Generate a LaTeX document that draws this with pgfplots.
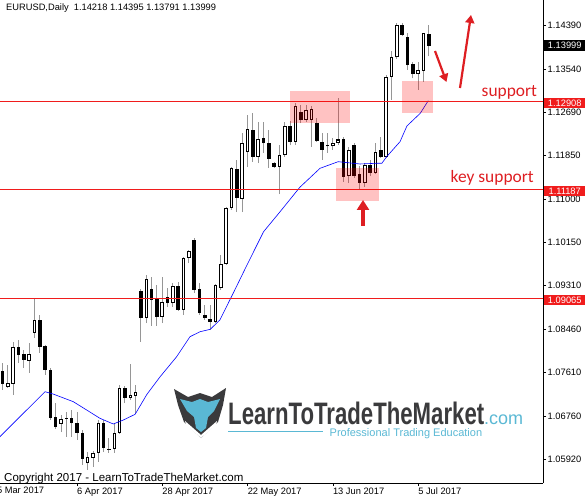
\documentclass[border=0pt]{standalone}
\usepackage{fontspec}
\setmainfont{Liberation Sans}
\newfontfamily\annofont{Carlito}
\usepackage{graphicx}
\usepackage{pgfplots}
\pgfplotsset{compat=1.18}
\usepackage{pgfplotstable}
\usetikzlibrary{arrows.meta}

\definecolor{lvl}{RGB}{240,28,28}
\definecolor{anno}{RGB}{222,30,34}
\definecolor{wick}{RGB}{150,150,150}
\definecolor{logoblue}{RGB}{90,184,212}
\definecolor{logogray}{RGB}{58,58,60}
\newcommand\tk{\fontsize{9.3}{10}\selectfont}

% daily candles, index 0 = 6 Apr 2017
\pgfplotstableread{
i   O       H       L       C
-14 1.07639 1.07795 1.07268 1.07385
-13 1.07326 1.07756 1.07307 1.07404
-12 1.07385 1.08206 1.07170 1.08108
-11 1.08108 1.08245 1.07795 1.07952
-10 1.07971 1.08050 1.07698 1.07854
-9  1.07834 1.08186 1.07600 1.07971
-8  1.08382 1.09066 1.08284 1.08636
-7  1.08636 1.08734 1.07991 1.08108
-6  1.08128 1.08147 1.07561 1.07659
-5  1.07659 1.07698 1.06681 1.06720
-4  1.06740 1.07013 1.06505 1.06544
-3  1.06603 1.06779 1.06446 1.06701
-2  1.06712 1.06837 1.06349 1.06724
-1  1.06720 1.06877 1.06349 1.06622
0   1.06622 1.06837 1.06290 1.06427
1   1.06427 1.06486 1.05801 1.05919
2   1.05840 1.06055 1.05704 1.05958
3   1.05938 1.06075 1.05762 1.06036
4   1.06036 1.06681 1.05860 1.06622
5   1.06622 1.06681 1.06055 1.06134
6   1.06114 1.06329 1.06036 1.06100
7   1.06114 1.06622 1.06036 1.06427
8   1.06427 1.07365 1.06407 1.07307
9   1.07307 1.07346 1.07013 1.07111
10  1.07111 1.07776 1.07072 1.07170
11  1.07150 1.07365 1.06818 1.07228
12  1.09203 1.09242 1.08206 1.08675
13  1.08675 1.09516 1.08577 1.09438
14  1.09242 1.09477 1.08519 1.09027
15  1.09047 1.09320 1.08519 1.08695
16  1.08695 1.09477 1.08577 1.08988
17  1.09086 1.09262 1.08890 1.08968
18  1.08968 1.09359 1.08890 1.09301
19  1.09301 1.09379 1.08812 1.08832
20  1.08832 1.09868 1.08734 1.09848
21  1.09848 1.10005 1.09750 1.09985
22  1.10200 1.10239 1.09164 1.09223
23  1.09242 1.09359 1.08734 1.08773
24  1.08734 1.08929 1.08636 1.08675
25  1.08656 1.08929 1.08441 1.08597
26  1.08597 1.09340 1.08577 1.09320
27  1.09262 1.09907 1.09223 1.09731
28  1.09731 1.10845 1.09711 1.10826
29  1.10826 1.11627 1.10787 1.11608
30  1.11588 1.11764 1.10747 1.11021
31  1.11002 1.12292 1.10747 1.12096
32  1.11920 1.12644 1.11627 1.12370
33  1.12351 1.12683 1.11725 1.11823
34  1.11823 1.12507 1.11705 1.12175
35  1.12194 1.12507 1.11901 1.12096
36  1.12096 1.12351 1.11608 1.11784
37  1.11705 1.11725 1.11608 1.11627
38  1.11627 1.12057 1.11099 1.11862
39  1.11862 1.12507 1.11823 1.12429
40  1.12429 1.12526 1.12057 1.12116
41  1.12116 1.12878 1.12057 1.12820
42  1.12702 1.12839 1.12487 1.12546
43  1.12546 1.12839 1.12507 1.12742
44  1.12546 1.12820 1.12018 1.12761
45  1.12487 1.12585 1.12116 1.12135
46  1.12116 1.12292 1.11764 1.11960
47  1.12057 1.12292 1.11901 1.12028
48  1.12028 1.12194 1.11960 1.12096
49  1.12102 1.12976 1.12057 1.12165
50  1.12165 1.12214 1.11334 1.11441
51  1.11451 1.12018 1.11314 1.11960
52  1.12057 1.12096 1.11412 1.11451
53  1.11490 1.11647 1.11197 1.11320
54  1.11314 1.11705 1.11236 1.11666
55  1.11666 1.11764 1.11451 1.11510
56  1.11516 1.12096 1.11490 1.11926
57  1.11960 1.12214 1.11803 1.11829
58  1.11829 1.13426 1.11803 1.13387
59  1.13387 1.13895 1.12937 1.13772
60  1.13772 1.14448 1.13739 1.14403
61  1.14403 1.14448 1.14188 1.14208
62  1.14175 1.14241 1.13524 1.13621
63  1.13641 1.13686 1.13361 1.13445
64  1.13445 1.13686 1.13133 1.13524
65  1.13510 1.14253 1.13295 1.14241
66  1.14218 1.14395 1.13791 1.13999
}\ohlc

% moving average (blue)
\pgfplotstableread{
i     ma
-14.6 1.06340
-10.7 1.06746
-6.0  1.07234
-4.5  1.07189
-0.7  1.07039
1.8   1.06877
4.3   1.06714
6.8   1.06603
8.7   1.06681
10.9  1.06792
13.1  1.07180
15.6  1.07528
18.7  1.07919
21.2  1.08310
23.1  1.08407
25.0  1.08454
26.8  1.08636
29.3  1.09158
31.8  1.09692
35.0  1.10362
38.1  1.10753
41.8  1.11230
45.6  1.11602
49.0  1.11731
53.1  1.11686
56.2  1.11700
57.2  1.11700
58.1  1.11829
60.6  1.12122
61.9  1.12429
64.4  1.12677
65.9  1.12923
}\sma

\begin{document}
\begin{tikzpicture}
\useasboundingbox (0,0) rectangle (585pt,498pt);
\begin{axis}[
  at={(0pt,15pt)}, anchor=south west,
  scale only axis, width=543pt, height=483pt,
  xmin=-14.45, xmax=87.43,
  ymin=1.05449, ymax=1.14892,
  axis x line*=bottom, axis y line*=right,
  axis line style={black, line width=0.9pt},
  tick align=outside, major tick length=3pt,
  tick style={black, line width=0.6pt},
  xtick={0,16,32,48,64},
  xticklabels={6 Apr 2017, 28 Apr 2017, 22 May 2017, 13 Jun 2017, 5 Jul 2017},
  xticklabel style={font=\tk, anchor=north west, inner xsep=0pt, inner ysep=1.5pt},
  ytick={1.05920,1.06760,1.07610,1.08460,1.09310,1.10150,1.11000,1.11850,1.12690,1.13540,1.14390},
  yticklabels={1.05920,1.06760,1.07610,1.08460,1.09310,1.10150,1.11000,1.11850,1.12690,1.13540,1.14390},
  yticklabel style={font=\tk, anchor=west, inner xsep=1.5pt},
  error bars/error mark=none,
]
% wicks
\addplot[draw=none, mark=none, forget plot,
  error bars/.cd, y dir=plus, y explicit,
  error bar style={draw=wick, line width=1pt}]
  table[x=i, y=L, y error expr=\thisrow{H}-\thisrow{L}] {\ohlc};
% bullish bodies: outline
\addplot[draw=none, mark=none, forget plot,
  error bars/.cd, y dir=plus, y explicit,
  error bar style={draw=black, line width=3.6pt}]
  table[x=i, y expr={\thisrow{C}>\thisrow{O} ? \thisrow{O} : nan},
        y error expr=\thisrow{C}-\thisrow{O}] {\ohlc};
% bullish bodies: hollow inside
\addplot[draw=none, mark=none, forget plot,
  error bars/.cd, y dir=plus, y explicit,
  error bar style={draw=white, line width=1.6pt}]
  table[x=i, y expr={\thisrow{C}>\thisrow{O} ? \thisrow{O}+0.0002 : nan},
        y error expr={max(\thisrow{C}-\thisrow{O}-0.0004,0)}] {\ohlc};
% bearish bodies
\addplot[draw=none, mark=none, forget plot,
  error bars/.cd, y dir=plus, y explicit,
  error bar style={draw=black, line width=3.6pt}]
  table[x=i, y expr={\thisrow{C}<\thisrow{O} ? \thisrow{C} : nan},
        y error expr=\thisrow{O}-\thisrow{C}] {\ohlc};
% moving average
\addplot[blue, line width=0.6pt, mark=none] table[x=i, y=ma] {\sma};
% levels
\addplot[lvl, line width=1pt, mark=none] coordinates {(-15,1.12908) (88,1.12908)};
\addplot[lvl, line width=1pt, mark=none] coordinates {(-15,1.11187) (88,1.11187)};
\addplot[lvl, line width=1pt, mark=none] coordinates {(-15,1.09065) (88,1.09065)};
% highlight boxes
\fill[red, fill opacity=0.24] (axis cs:39.96,1.12493) rectangle (axis cs:51.2,1.13119);
\fill[red, fill opacity=0.24] (axis cs:60.9,1.12689) rectangle (axis cs:66.7,1.13308);
\fill[red, fill opacity=0.24] (axis cs:48.6,1.10968) rectangle (axis cs:56.7,1.11602);
\end{axis}

% annotations in pixel coordinates (origin top left)
\begin{scope}[x=1pt, y=-1pt, yshift=498pt]
  \node[anchor=north west, inner sep=0pt, font=\tk] at (-8.3,487) {15 Mar 2017};
  \node[anchor=base west, inner sep=0pt, font=\tk] at (6,11) {EURUSD,Daily\ \ 1.14218 1.14395 1.13791 1.13999};
  \node[anchor=base west, inner sep=0pt, font=\fontsize{11.5}{12}\selectfont] at (4,481) {Copyright 2017 - LearnToTradeTheMarket.com};
  % price labels
  \node[fill=black, text=white, font=\tk, inner xsep=0pt, inner ysep=0pt, minimum height=10.5pt, minimum width=42pt, anchor=west] at (543.5,45.7) {1.13999};
  \node[fill=lvl, text=white, font=\tk, inner xsep=0pt, inner ysep=0pt, minimum height=10.5pt, minimum width=42pt, anchor=west] at (543.5,103) {1.12908};
  \node[fill=lvl, text=white, font=\tk, inner xsep=0pt, inner ysep=0pt, minimum height=10.5pt, minimum width=42pt, anchor=west] at (543.5,191) {1.11187};
  \node[fill=lvl, text=white, font=\tk, inner xsep=0pt, inner ysep=0pt, minimum height=10.5pt, minimum width=42pt, anchor=west] at (543.5,300) {1.09065};
  % labels
  \node[anchor=base west, inner sep=0pt, text=anno, font=\annofont\fontsize{17.4}{18}\selectfont] at (481.5,96.5) {support};
  \node[anchor=base west, inner sep=0pt, text=anno, font=\annofont\fontsize{17.4}{18}\selectfont] at (450.5,183) {key support};
  % arrows
  \draw[anno, line width=2.2pt, -{Triangle[length=8pt, width=9pt]}] (435,51) -- (446.5,82);
  \draw[anno, line width=2.2pt, -{Triangle[length=8pt, width=9pt]}] (460,88) -- (471,15);
  \draw[anno, line width=4.5pt, -{Triangle[length=10pt, width=12pt]}] (363,226) -- (363,200);
  % logo
  \fill[logogray] (174,389) -- (188,397) -- (200,393) -- (212,397) -- (226,388) -- (223,405)
     -- (218,422) -- (201,438) -- (184,422) -- (178,405) -- cycle;
  \fill[logoblue] (180,399) -- (192,402) -- (200,399) -- (208,402) -- (220,399) -- (214,411)
     -- (208,417) -- (206,428) -- (201,432) -- (196,428) -- (194,417) -- (187,411) -- cycle;
  \fill[white] (185,421) -- (201,435) -- (217,421) -- (216,425) -- (201,438) -- (186,425) -- cycle;
  \node[anchor=base west, inner sep=0pt, text=logogray] at (228,424)
     {\resizebox{256pt}{22.5pt}{\bfseries LearnToTradeTheMarket}};
  \node[anchor=base west, inner sep=0pt, text=logoblue, font=\fontsize{18}{18}\selectfont] at (484,424) {.com};
  \draw[logoblue, line width=1.2pt] (228,431.3) -- (323,431.3);
  \node[anchor=base west, inner sep=0pt, text=logoblue, font=\fontsize{11}{12}\selectfont] at (329.5,436) {Professional Trading Education};
\end{scope}
\end{tikzpicture}
\end{document}
